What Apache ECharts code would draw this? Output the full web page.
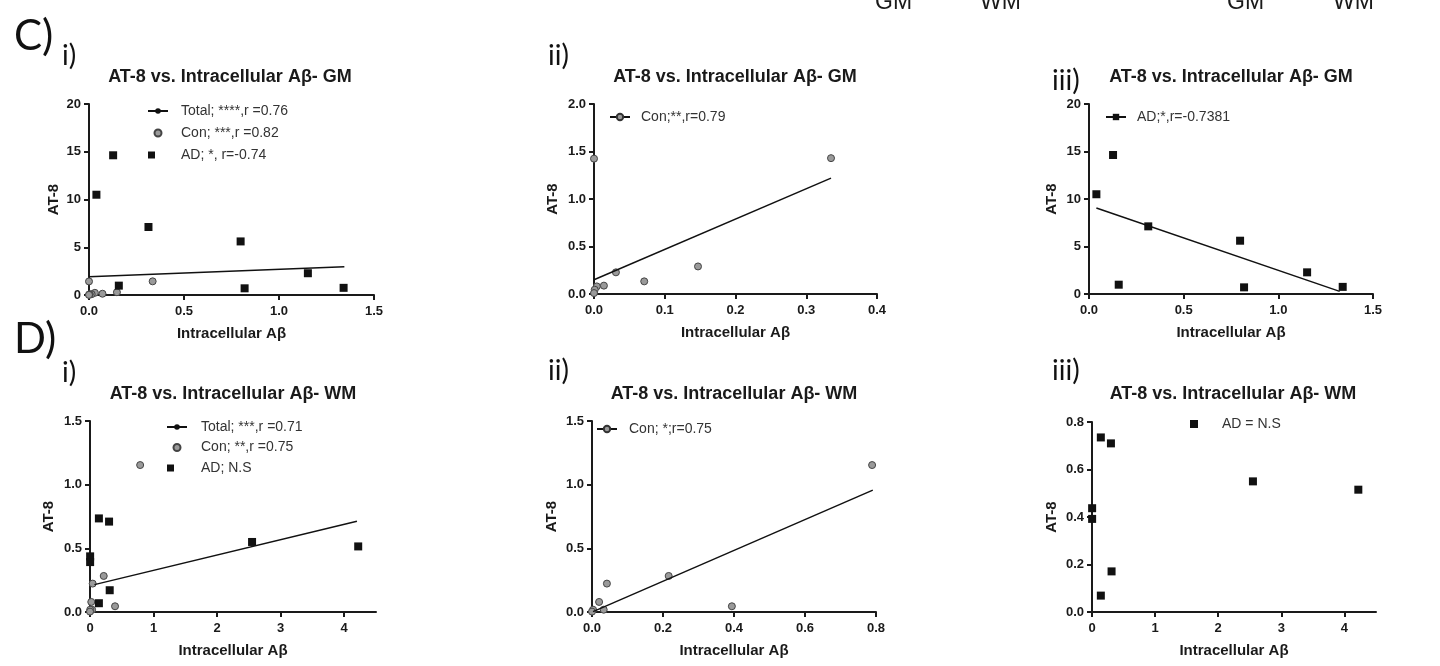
<!DOCTYPE html>
<html>
<head>
<meta charset="utf-8">
<script src="https://cdn.jsdelivr.net/npm/echarts@6/dist/echarts.min.js"></script>
<style>
  html, body { margin: 0; padding: 0; background: #fff; }
  #chart { width: 1440px; height: 666px; }
</style>
</head>
<body>
<div id="chart"></div>
<script>
// points are [Intracellular Aβ, AT-8]
const conGM = [[0, 1.425], [0.335, 1.43], [0.147, 0.29], [0.071, 0.133], [0.031, 0.228], [0.014, 0.088], [0.004, 0.08], [0.001, 0.045], [0, 0.01]];
const adGM = [[0.039, 10.5], [0.127, 14.63], [0.313, 7.12], [0.157, 0.98], [0.798, 5.61], [0.819, 0.7], [1.152, 2.28], [1.34, 0.75]];
const conWM = [[0.789, 1.154], [0.216, 0.283], [0.042, 0.223], [0.02, 0.079], [0.394, 0.045], [0.033, 0.018], [0.003, 0.018], [0, 0.003]];
const adWM = [[0.14, 0.735], [0.3, 0.71], [2.55, 0.55], [4.22, 0.515], [0.002, 0.437], [0.002, 0.392], [0.31, 0.171], [0.14, 0.069]];

// regression line end points
const fitTotalGM = [[0, 1.92], [1.344, 2.97]];
const fitConGM = [[0, 0.15], [0.335, 1.22]];
const fitAdGM = [[0.039, 9.05], [1.324, 0.28]];
const fitTotalWM = [[0.07, 0.215], [4.2, 0.713]];
const fitConWM = [[0.003, 0.003], [0.791, 0.957]];

// tick values
const ticksX15 = [0, 0.5, 1, 1.5];
const ticksY20 = [0, 5, 10, 15, 20];
const ticksX04 = [0, 0.1, 0.2, 0.3, 0.4];
const ticksY2 = [0, 0.5, 1, 1.5, 2];
const ticksX4 = [0, 1, 2, 3, 4];
const ticksY15 = [0, 0.5, 1, 1.5];
const ticksX08 = [0, 0.2, 0.4, 0.6, 0.8];
const ticksY08 = [0, 0.2, 0.4, 0.6, 0.8];

// legend labels
const legCi = ['Total; ****,r =0.76', 'Con; ***,r =0.82', 'AD; *, r=-0.74'];
const legCii = ['Con;**,r=0.79'];
const legCiii = ['AD;*,r=-0.7381'];
const legDi = ['Total; ***,r =0.71', 'Con; **,r =0.75', 'AD; N.S'];
const legDii = ['Con; *;r=0.75'];
const legDiii = ['AD = N.S'];

const titleGM = 'AT-8 vs. Intracellular Aβ- GM';
const titleWM = 'AT-8 vs. Intracellular Aβ- WM';

const FONT = "'Liberation Sans', Arial, sans-serif";
const INK = '#1a1a1a';

function xAx(gi, ticks, dec, max) {
  return {
    type: 'value', gridIndex: gi, min: ticks[0], max: max != null ? max : ticks[ticks.length - 1],
    name: 'Intracellular Aβ', nameLocation: 'middle', nameGap: 31,
    nameTextStyle: { fontFamily: FONT, fontWeight: 'bold', fontSize: 15, color: INK },
    axisLine: { onZero: false, lineStyle: { color: INK, width: 2 } },
    axisTick: { show: true, length: 5, customValues: ticks, lineStyle: { color: INK, width: 2 } },
    axisLabel: { customValues: ticks, formatter: v => v.toFixed(dec), margin: 10,
      fontFamily: FONT, fontWeight: 'bold', fontSize: 13, color: INK },
    splitLine: { show: false }
  };
}
function yAx(gi, ticks, dec, gap) {
  return {
    type: 'value', gridIndex: gi, min: ticks[0], max: ticks[ticks.length - 1],
    name: 'AT-8', nameLocation: 'middle', nameGap: gap,
    nameTextStyle: { fontFamily: FONT, fontWeight: 'bold', fontSize: 15, color: INK },
    axisLine: { show: true, onZero: false, lineStyle: { color: INK, width: 2 } },
    axisTick: { show: true, length: 5, customValues: ticks, lineStyle: { color: INK, width: 2 } },
    axisLabel: { customValues: ticks, formatter: v => v.toFixed(dec), margin: 8,
      fontFamily: FONT, fontWeight: 'bold', fontSize: 13, color: INK },
    splitLine: { show: false }
  };
}
function conSc(name, i, data) {
  return { type: 'scatter', name: name, xAxisIndex: i, yAxisIndex: i, data: data, clip: false,
    symbol: 'circle', symbolSize: 7, z: 3,
    itemStyle: { color: '#9a9a9a', borderColor: '#444', borderWidth: 1, opacity: 1 } };
}
function adSc(name, i, data) {
  return { type: 'scatter', name: name, xAxisIndex: i, yAxisIndex: i, data: data, clip: false,
    symbol: 'square', symbolSize: 8, z: 3, itemStyle: { color: '#111', opacity: 1 } };
}
function fit(name, i, data, sym, itemStyle) {
  return { type: 'line', name: name, xAxisIndex: i, yAxisIndex: i, data: data,
    showSymbol: false, symbol: sym, symbolSize: 6, z: 4,
    lineStyle: { color: '#111', width: 1.5 }, itemStyle: itemStyle };
}
function leg(names, left, top, gap, h, pad) {
  return { data: names, left: left, top: top, orient: 'vertical', padding: 0, itemGap: gap,
    itemWidth: 20, itemHeight: h, selectedMode: false,
    textStyle: { fontFamily: FONT, fontSize: 14, color: '#333', padding: [0, 0, 0, pad] } };
}
function txt(x, y, s, size, opt) {
  opt = opt || {};
  return { type: 'text', x: x, y: y, silent: true,
    style: { text: s, fontFamily: opt.family || FONT, fontSize: size, fontWeight: opt.weight || 'normal',
      fill: opt.color || INK, align: opt.align || 'left', verticalAlign: 'middle',
      textAlign: opt.align || 'left', textVerticalAlign: 'middle' } };
}

const chart = echarts.init(document.getElementById('chart'));
const LBL = { family: "Lato, 'Open Sans', sans-serif", color: '#111' };
const TTL = { weight: 'bold', align: 'center' };

chart.setOption({
  animation: false,
  backgroundColor: '#fff',
  grid: [
    { left: 89, top: 104, width: 285, height: 191 },
    { left: 594, top: 104, width: 283, height: 190 },
    { left: 1089, top: 104, width: 284, height: 190 },
    { left: 90, top: 421, width: 286, height: 191 },
    { left: 592, top: 421, width: 284, height: 191 },
    { left: 1092, top: 422, width: 284, height: 190 }
  ],
  xAxis: [
    xAx(0, ticksX15, 1), xAx(1, ticksX04, 1), xAx(2, ticksX15, 1),
    xAx(3, ticksX4, 0, 4.5), xAx(4, ticksX08, 1), xAx(5, ticksX4, 0, 4.5)
  ],
  yAxis: [
    yAx(0, ticksY20, 0, 28), yAx(1, ticksY2, 1, 34), yAx(2, ticksY20, 0, 30),
    yAx(3, ticksY15, 1, 34), yAx(4, ticksY15, 1, 33), yAx(5, ticksY08, 1, 33)
  ],
  legend: [
    leg(legCi, 147, 104, 8, 7, 8),
    leg(legCii, 609, 110, 8, 8, 6),
    leg(legCiii, 1105, 110, 8, 8, 6),
    leg(legDi, 166, 420, 6.5, 7, 9),
    leg(legDii, 596, 422, 8, 8, 7),
    leg(legDiii, 1190, 417, 8, 8, 7)
  ],
  series: [
    fit(legCi[0], 0, fitTotalGM, 'circle', { color: '#111' }),
    conSc(legCi[1], 0, conGM),
    adSc(legCi[2], 0, adGM),

    conSc('Con GM', 1, conGM),
    fit(legCii[0], 1, fitConGM, 'circle', { color: '#9a9a9a', borderColor: '#333', borderWidth: 1 }),

    adSc('AD GM', 2, adGM),
    fit(legCiii[0], 2, fitAdGM, 'square', { color: '#111' }),

    fit(legDi[0], 3, fitTotalWM, 'circle', { color: '#111' }),
    conSc(legDi[1], 3, conWM),
    adSc(legDi[2], 3, adWM),

    conSc('Con WM', 4, conWM),
    fit(legDii[0], 4, fitConWM, 'circle', { color: '#9a9a9a', borderColor: '#333', borderWidth: 1 }),

    adSc(legDiii[0], 5, adWM)
  ],
  graphic: [
    // cut-off labels from the panel above
    txt(875, 3, 'GM', 23), txt(980, 3, 'WM', 23), txt(1227, 3, 'GM', 23), txt(1333, 3, 'WM', 23),
    // panel letters
    txt(14, 36, 'C)', 42, LBL), txt(62, 56, 'i)', 28, LBL), txt(548, 56, 'ii)', 28, LBL), txt(1052, 81, 'iii)', 28, LBL),
    txt(14, 339, 'D)', 42, LBL), txt(62, 373, 'i)', 28, LBL), txt(548, 371, 'ii)', 28, LBL), txt(1052, 371, 'iii)', 28, LBL),
    // panel titles
    txt(230, 77, titleGM, 18, TTL), txt(735, 77, titleGM, 18, TTL), txt(1231, 77, titleGM, 18, TTL),
    txt(233, 394, titleWM, 18, TTL), txt(734, 394, titleWM, 18, TTL), txt(1233, 394, titleWM, 18, TTL)
  ]
});
</script>
</body>
</html>
